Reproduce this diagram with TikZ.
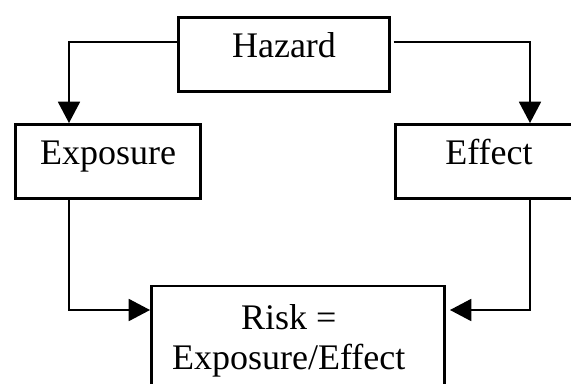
\documentclass[tikz,border=0pt]{standalone}
\usepackage{fontspec}
\setmainfont{Liberation Serif}
\usetikzlibrary{arrows.meta, positioning}

\begin{document}
\begin{tikzpicture}[
  x=0.75pt, y=-0.75pt,
  box/.style={rectangle, draw=black, line width=2.2pt, minimum height=74*0.75pt, align=center, font=\fontsize{27}{30}\selectfont, text height=0.7em, text depth=0.25em, inner sep=0pt},
  arrow/.style={-{Triangle[length=16pt, width=16.5pt]}, line width=1.4pt}
]
  \clip (0,0) rectangle (571,383);

  \node[box, minimum width=211*0.75pt] (hazard) at (284,54.5) {Hazard};
  \node[box, minimum width=185*0.75pt] (exposure) at (108,161.5) {Exposure};
  \node[box, minimum width=187*0.75pt] (effect) at (489,161.5) {Effect};
  \node[box, minimum width=293*0.75pt, minimum height=110*0.75pt, text height=, text depth=] (risk) at (298,341) {Risk =\hspace*{14pt}\\Exposure/Effect\hspace*{14pt}};

  \draw[arrow] (hazard.west |- 0,42) -| (exposure.north -| 69,0);
  \draw[arrow, shorten <=2pt] (hazard.east |- 0,42) -| (effect.north -| 530,0);
  \draw[arrow] (exposure.south -| 69,0) |- (risk.west |- 0,310);
  \draw[arrow, shorten >=3pt] (effect.south -| 530,0) |- (risk.east |- 0,310);
\end{tikzpicture}
\end{document}
